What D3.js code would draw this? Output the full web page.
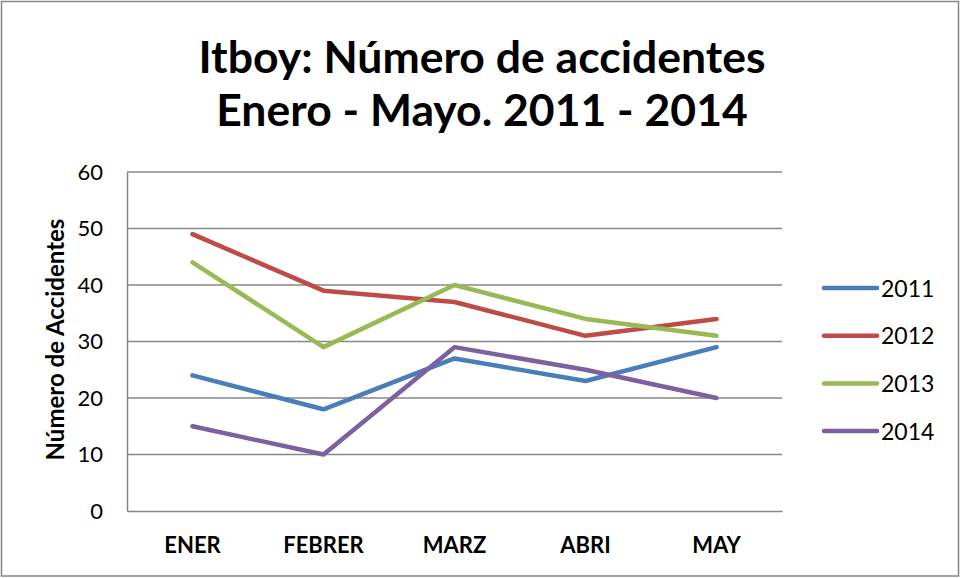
<!DOCTYPE html>
<html>
<head>
<meta charset="utf-8">
<script src="https://cdn.jsdelivr.net/npm/d3@7"></script>
<style>
  body { margin: 0; background: #fff; }
  svg { font-family: Lato, "Open Sans", sans-serif; }
</style>
</head>
<body>
<div id="chart"></div>
<script>
// data
const months = ["ENER", "FEBRER", "MARZ", "ABRI", "MAY"];
const years = ["2011", "2012", "2013", "2014"];
const values2011 = [24, 18, 27, 23, 29];
const values2012 = [49, 39, 37, 31, 34];
const values2013 = [44, 29, 40, 34, 31];
const values2014 = [15, 10, 29, 25, 20];
const yTicks = [0, 10, 20, 30, 40, 50, 60];

const series = [
  { name: years[0], values: values2011, color: "#4a7ebb" },
  { name: years[1], values: values2012, color: "#be4b48" },
  { name: years[2], values: values2013, color: "#98b954" },
  { name: years[3], values: values2014, color: "#7d60a0" },
];

const width = 961;
const height = 578;
const plot = { left: 127, right: 782, top: 172, bottom: 511 };

const x = d3.scaleBand().domain(months).range([plot.left, plot.right]);
const y = d3.scaleLinear().domain([0, 60]).range([plot.bottom, plot.top]);

const svg = d3.select("#chart")
  .append("svg")
  .attr("width", width)
  .attr("height", height);

// outer frame
svg.append("rect")
  .attr("x", 1.5).attr("y", 1.5)
  .attr("width", width - 4).attr("height", height - 3.5)
  .attr("fill", "#fff")
  .attr("stroke", "#868686")
  .attr("stroke-width", 1.5);

// title
const title = svg.append("text")
  .attr("text-anchor", "middle")
  .attr("font-weight", "bold")
  .attr("font-size", 44.5)
  .attr("fill", "#000");
title.append("tspan").attr("x", 482).attr("y", 73).text("Itboy: Número de accidentes");
title.append("tspan").attr("x", 482).attr("y", 126).text("Enero - Mayo. 2011 - 2014");

// gridlines
svg.append("g")
  .selectAll("line")
  .data(yTicks.filter((d) => d > 0))
  .join("line")
  .attr("x1", plot.left).attr("x2", plot.right)
  .attr("y1", (d) => y(d)).attr("y2", (d) => y(d))
  .attr("stroke", "#868686")
  .attr("stroke-width", 1.5);

// y axis
const yAxis = svg.append("g")
  .attr("transform", `translate(${plot.left},0)`)
  .call(d3.axisLeft(y).tickValues(yTicks).tickSize(0).tickPadding(24));
yAxis.select(".domain").attr("stroke", "#868686").attr("stroke-width", 1.5);
yAxis.attr("font-family", "Lato, sans-serif").attr("font-size", 22);
yAxis.selectAll("text").attr("fill", "#000");

// x axis
const xAxis = svg.append("g")
  .attr("transform", `translate(0,${plot.bottom})`)
  .call(d3.axisBottom(x).tickSize(0).tickPadding(26));
xAxis.select(".domain").attr("stroke", "#868686").attr("stroke-width", 1.5);
xAxis.attr("font-family", "Lato, sans-serif").attr("font-size", 22).attr("font-weight", "bold");
xAxis.selectAll("text").attr("fill", "#000");

// y axis title
svg.append("text")
  .attr("transform", `translate(64,${(plot.top + plot.bottom) / 2 - 2}) rotate(-90)`)
  .attr("text-anchor", "middle")
  .attr("font-size", 24)
  .attr("font-weight", "bold")
  .text("Número de Accidentes");

// lines
const line = d3.line()
  .x((d, i) => x(months[i]) + x.bandwidth() / 2)
  .y((d) => y(d));

svg.append("g")
  .selectAll("path")
  .data(series)
  .join("path")
  .attr("fill", "none")
  .attr("stroke", (d) => d.color)
  .attr("stroke-width", 4.5)
  .attr("stroke-linejoin", "round")
  .attr("stroke-linecap", "round")
  .attr("d", (d) => line(d.values));

// legend
const legend = svg.append("g")
  .selectAll("g")
  .data(series)
  .join("g")
  .attr("transform", (d, i) => `translate(822,${288 + i * 47.7})`);
legend.append("line")
  .attr("x1", 2).attr("x2", 55)
  .attr("stroke", (d) => d.color)
  .attr("stroke-width", 4.5)
  .attr("stroke-linecap", "round");
legend.append("text")
  .attr("x", 59)
  .attr("y", 8.5)
  .attr("font-size", 23)
  .text((d) => d.name);
</script>
</body>
</html>
